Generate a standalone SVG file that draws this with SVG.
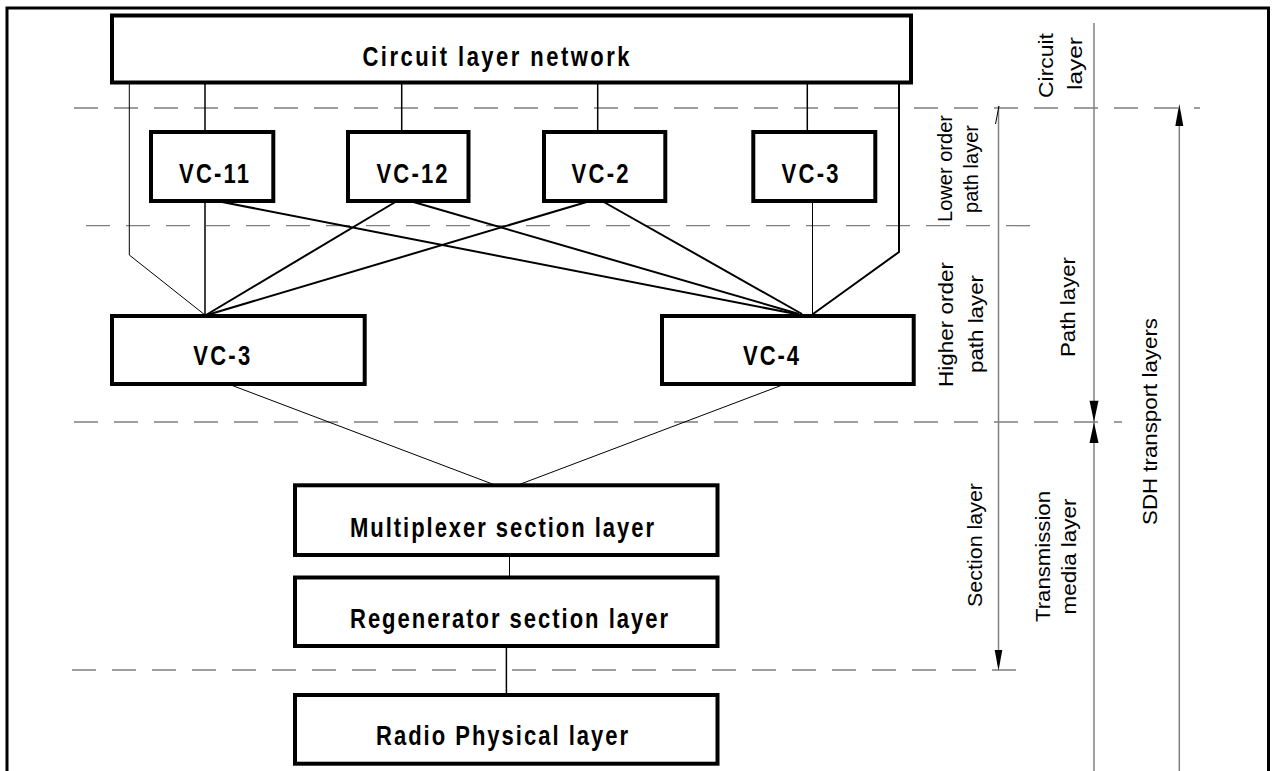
<svg xmlns="http://www.w3.org/2000/svg" width="1274" height="771" viewBox="0 0 1274 771">
<style>
.box{fill:#fff;stroke:#000;stroke-width:4}
.lbl{font-family:"Liberation Sans",Arial,sans-serif;font-weight:bold;font-size:22px;text-anchor:middle;fill:#000}
.side{font-family:"Liberation Sans",Arial,sans-serif;font-size:20px;text-anchor:middle;fill:#000}
.dash{fill:none;stroke:#7f7f7f;stroke-width:1.3;stroke-dasharray:24 16}
.dim{fill:none;stroke:#808080;stroke-width:1.5}
.ah{fill:#000;stroke:none}
.c1{fill:none;stroke:#000;stroke-width:1}
.c2{fill:none;stroke:#000;stroke-width:2}
.c15{fill:none;stroke:#000;stroke-width:1.5}
</style>
<rect width="1274" height="771" fill="#fff"/>
<path d="M7,771 V8 H1268.5 V771" fill="none" stroke="#000" stroke-width="3"/>

<g id="layer-boundaries">
<line class="dash" x1="74" y1="108" x2="1200" y2="108"/>
<line class="dash" x1="86" y1="225.7" x2="1030" y2="225.7"/>
<line class="dash" x1="74" y1="422" x2="1122" y2="422"/>
<line class="dash" x1="72" y1="670" x2="1017" y2="670"/>
</g>

<g id="dimension-lines">
<line class="dim" x1="998.5" y1="106" x2="998.5" y2="652"/>
<line class="c1" x1="999" y1="106" x2="995.5" y2="124"/>
<polygon class="ah" points="994.7,650 1002.3,650 998.5,670.7"/>
<line class="dim" x1="1094" y1="23" x2="1094" y2="771"/>
<polygon class="ah" points="1089.5,400.7 1098.5,400.7 1094,421.7"/>
<polygon class="ah" points="1089.5,443 1098.5,443 1094,422.3"/>
<line class="dim" x1="1179.3" y1="110" x2="1179.3" y2="771"/>
<polygon class="ah" points="1175.3,126 1183.3,126 1179.3,104"/>
</g>

<g id="side-labels">
<text class="side" transform="translate(1053,65.5) rotate(-90)" textLength="65" lengthAdjust="spacingAndGlyphs">Circuit</text>
<text class="side" transform="translate(1082,63.5) rotate(-90)" textLength="53" lengthAdjust="spacingAndGlyphs">layer</text>
<text class="side" transform="translate(952,168.5) rotate(-90)" textLength="107" lengthAdjust="spacingAndGlyphs">Lower order</text>
<text class="side" transform="translate(978,169) rotate(-90)" textLength="88" lengthAdjust="spacingAndGlyphs">path layer</text>
<text class="side" transform="translate(953,324.5) rotate(-90)" textLength="125" lengthAdjust="spacingAndGlyphs">Higher order</text>
<text class="side" transform="translate(983,324) rotate(-90)" textLength="98" lengthAdjust="spacingAndGlyphs">path layer</text>
<text class="side" transform="translate(1075,307) rotate(-90)" textLength="100" lengthAdjust="spacingAndGlyphs">Path layer</text>
<text class="side" transform="translate(1157,421.5) rotate(-90)" textLength="207" lengthAdjust="spacingAndGlyphs">SDH transport layers</text>
<text class="side" transform="translate(982,545) rotate(-90)" textLength="124" lengthAdjust="spacingAndGlyphs">Section layer</text>
<text class="side" transform="translate(1050,556.5) rotate(-90)" textLength="131" lengthAdjust="spacingAndGlyphs">Transmission</text>
<text class="side" transform="translate(1076,556.5) rotate(-90)" textLength="116" lengthAdjust="spacingAndGlyphs">media layer</text>
</g>

<g id="connectors">
<line class="c15" x1="205" y1="83" x2="205" y2="132"/>
<line class="c15" x1="401.7" y1="83" x2="401.7" y2="132"/>
<line class="c15" x1="597.7" y1="83" x2="597.7" y2="132"/>
<line class="c15" x1="807.3" y1="83" x2="807.3" y2="132"/>
<polyline class="c1" points="129.3,78 129.3,255 205,315"/>
<polyline class="c2" points="899,83 899,252 813,314"/>
<line class="c15" x1="205" y1="201" x2="205" y2="315"/>
<line class="c2" x1="397" y1="201" x2="206" y2="315"/>
<line class="c2" x1="590" y1="201" x2="207" y2="315"/>
<line class="c2" x1="217" y1="201" x2="796" y2="314"/>
<line class="c2" x1="410" y1="201" x2="799" y2="314"/>
<line class="c2" x1="602" y1="201" x2="802" y2="314"/>
<line class="c1" x1="812.5" y1="201" x2="812.5" y2="314"/>
<line class="c1" x1="228.3" y1="384" x2="495" y2="485"/>
<line class="c1" x1="785" y1="384" x2="518" y2="485"/>
<line class="c1" x1="509.5" y1="555" x2="509.5" y2="577"/>
<line class="c15" x1="506.4" y1="646" x2="506.4" y2="695"/>
</g>

<g id="circuit-layer-network">
<rect class="box" x="112" y="15.5" width="799" height="67"/>
<text class="lbl" transform="translate(496,65.7) scale(1,1.25)" textLength="267" lengthAdjust="spacing">Circuit layer network</text>
</g>
<g id="vc-11">
<rect class="box" x="151" y="132" width="122.3" height="69"/>
<text class="lbl" transform="translate(214,183.3) scale(1,1.25)" textLength="70" lengthAdjust="spacing">VC-11</text>
</g>
<g id="vc-12">
<rect class="box" x="348" y="132" width="120.5" height="69"/>
<text class="lbl" transform="translate(412,183.3) scale(1,1.25)" textLength="71" lengthAdjust="spacing">VC-12</text>
</g>
<g id="vc-2">
<rect class="box" x="544" y="132" width="121.3" height="69"/>
<text class="lbl" transform="translate(600,183) scale(1,1.25)" textLength="57" lengthAdjust="spacing">VC-2</text>
</g>
<g id="vc-3-lower-order">
<rect class="box" x="753.3" y="132" width="122" height="69"/>
<text class="lbl" transform="translate(810,183) scale(1,1.25)" textLength="57" lengthAdjust="spacing">VC-3</text>
</g>
<g id="vc-3-higher-order">
<rect class="box" x="112" y="316" width="252.7" height="68"/>
<text class="lbl" transform="translate(221.7,365) scale(1,1.25)" textLength="57" lengthAdjust="spacing">VC-3</text>
</g>
<g id="vc-4">
<rect class="box" x="662" y="316" width="251.7" height="68"/>
<text class="lbl" transform="translate(771,365) scale(1,1.25)" textLength="56" lengthAdjust="spacing">VC-4</text>
</g>
<g id="multiplexer-section-layer">
<rect class="box" x="295" y="485.3" width="422.5" height="69.7"/>
<text class="lbl" transform="translate(502,536.7) scale(1,1.25)" textLength="304" lengthAdjust="spacing">Multiplexer section layer</text>
</g>
<g id="regenerator-section-layer">
<rect class="box" x="295" y="577.5" width="422.5" height="68.5"/>
<text class="lbl" transform="translate(509,628.3) scale(1,1.25)" textLength="318" lengthAdjust="spacing">Regenerator section layer</text>
</g>
<g id="radio-physical-layer">
<rect class="box" x="295" y="695" width="422.5" height="68.7"/>
<text class="lbl" transform="translate(502,745) scale(1,1.25)" textLength="252" lengthAdjust="spacing">Radio Physical layer</text>
</g>
</svg>
